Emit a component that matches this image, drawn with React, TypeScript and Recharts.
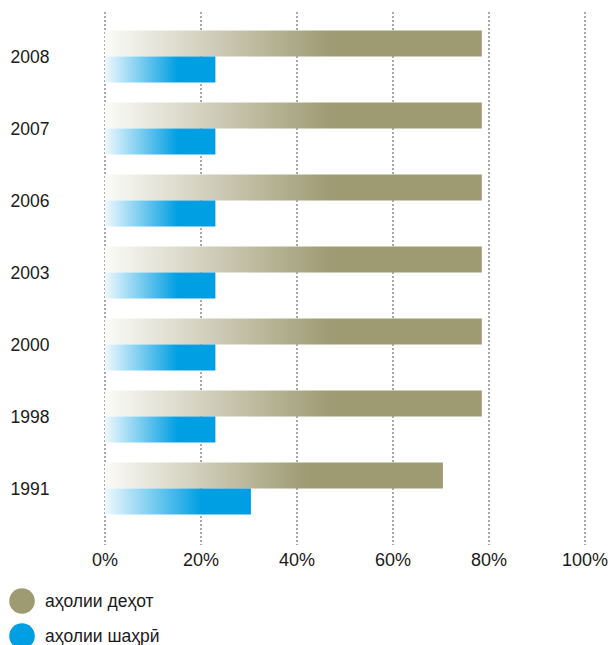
import { BarChart, Bar, XAxis, YAxis, CartesianGrid, Legend } from "recharts";

const years = ["2008", "2007", "2006", "2003", "2000", "1998", "1991"];
const rural = [78.5, 78.5, 78.5, 78.5, 78.5, 78.5, 70.4];
const urban = [23, 23, 23, 23, 23, 23, 30.4];
const xTicks = [0, 20, 40, 60, 80, 100];

const seriesNames = { rural: "аҳолии деҳот", urban: "аҳолии шаҳрӣ" };
const ruralColor = "#9e9a72";
const urbanColor = "#009fe3";

const data = years.map((year, i) => ({ year, rural: rural[i], urban: urban[i] }));

const font = "'Liberation Sans', Arial, sans-serif";

// подписи годов по центру слева
function YearTick(props: any) {
  const { y, payload } = props;
  return (
    <text
      x={30}
      y={y}
      textAnchor="middle"
      dominantBaseline="central"
      fontSize={17.5}
      fontFamily={font}
      fill="#1a1a1a"
    >
      {payload.value}
    </text>
  );
}

function LegendBox() {
  const items = [
    { name: seriesNames.rural, color: ruralColor },
    { name: seriesNames.urban, color: urbanColor },
  ];
  return (
    <div style={{ fontFamily: font, fontSize: 17.5, color: "#1a1a1a" }}>
      {items.map((it) => (
        <div
          key={it.name}
          style={{ display: "flex", alignItems: "center", height: 26, marginBottom: 9 }}
        >
          <svg width={26} height={26}>
            <circle cx={13} cy={13} r={12.8} fill={it.color} />
          </svg>
          <span style={{ marginLeft: 10 }}>{it.name}</span>
        </div>
      ))}
    </div>
  );
}

export default function App() {
  return (
    <div style={{ width: 610, height: 645, overflow: "hidden" }}>
      {/* без отступа body график занимает всё окно */}
      <style>{"body { margin: 0; }"}</style>
      <BarChart
        width={610}
        height={645}
        data={data}
        layout="vertical"
        margin={{ top: 12, right: 25, left: 0, bottom: 70 }}
        barGap={0}
        barSize={26}
      >
        <defs>
          <linearGradient id="gradRural" x1="0" y1="0" x2="1" y2="0">
            <stop offset="0" stopColor="#fbfbf8" />
            <stop offset="0.6" stopColor={ruralColor} />
            <stop offset="1" stopColor={ruralColor} />
          </linearGradient>
          <linearGradient id="gradUrban" x1="0" y1="0" x2="1" y2="0">
            <stop offset="0" stopColor="#eef8fd" />
            <stop offset="0.66" stopColor={urbanColor} />
            <stop offset="1" stopColor={urbanColor} />
          </linearGradient>
        </defs>
        <CartesianGrid
          horizontal={false}
          vertical={true}
          stroke="#555"
          strokeDasharray="2 2"
        />
        <XAxis
          type="number"
          domain={[0, 100]}
          ticks={xTicks}
          tickFormatter={(v) => `${v}%`}
          axisLine={false}
          tickLine={false}
          tickSize={6}
          tickMargin={2}
          interval={0}
          height={30}
          tick={{ fontSize: 18, fontFamily: font, fill: "#1a1a1a" }}
        />
        <YAxis
          type="category"
          dataKey="year"
          width={105}
          axisLine={false}
          tickLine={false}
          padding={{ top: 8.5, bottom: 20.5 }}
          tick={<YearTick />}
        />
        <Legend
          layout="vertical"
          align="center"
          verticalAlign="middle"
          wrapperStyle={{ left: 9, top: 588, width: 300 }}
          content={<LegendBox />}
        />
        <Bar
          dataKey="rural"
          name={seriesNames.rural}
          fill="url(#gradRural)"
          isAnimationActive={false}
        />
        <Bar
          dataKey="urban"
          name={seriesNames.urban}
          fill="url(#gradUrban)"
          isAnimationActive={false}
        />
      </BarChart>
    </div>
  );
}
